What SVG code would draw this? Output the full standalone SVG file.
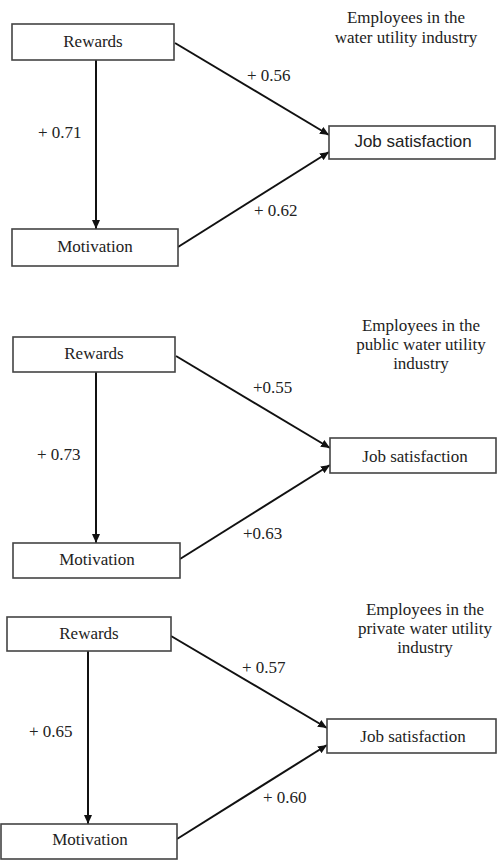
<svg xmlns="http://www.w3.org/2000/svg" width="497" height="860" viewBox="0 0 497 860">
<defs>
<marker id="ah" markerUnits="userSpaceOnUse" markerWidth="10" markerHeight="8" refX="9" refY="4" orient="auto">
<path d="M0,0 L9,4 L0,8 Z" fill="#111"/>
</marker>
<style>
.box{fill:#fff;stroke:#444;stroke-width:1.6}
.t{font-family:"Liberation Serif","Times New Roman",serif;font-size:17px;fill:#222}
.s{font-family:"Liberation Sans",Arial,sans-serif;font-size:17px;fill:#222}
.m{text-anchor:middle}
.e{stroke:#111;stroke-width:2;fill:none;marker-end:url(#ah)}
</style>
</defs>
<rect width="497" height="860" fill="#fff"/>

<!-- Panel 1 -->
<g id="title1">
<text class="t m" x="406" y="23">Employees in the</text>
<text class="t m" x="406" y="43">water utility industry</text>
</g>
<g id="connectors1">
<line class="e" x1="96" y1="60" x2="96" y2="229"/>
<line class="e" x1="175" y1="43" x2="329" y2="135"/>
<line class="e" x1="178" y1="247" x2="329" y2="152"/>
<text class="t" x="247" y="81">+ 0.56</text>
<text class="t" x="38" y="138">+ 0.71</text>
<text class="t" x="254" y="216">+ 0.62</text>
</g>
<g id="rewards1">
<rect class="box" x="12" y="24" width="162" height="36"/>
<text class="t m" x="93" y="47">Rewards</text>
</g>
<g id="motivation1">
<rect class="box" x="12" y="229" width="166" height="37"/>
<text class="t m" x="95" y="252">Motivation</text>
</g>
<g id="job1">
<rect class="box" x="329" y="126" width="166" height="33"/>
<text class="s m" x="413" y="147">Job satisfaction</text>
</g>

<!-- Panel 2 -->
<g id="title2">
<text class="t m" x="421" y="331">Employees in the</text>
<text class="t m" x="421" y="350">public water utility</text>
<text class="t m" x="421" y="369">industry</text>
</g>
<g id="connectors2">
<line class="e" x1="96" y1="372" x2="96" y2="543"/>
<line class="e" x1="176" y1="356" x2="330" y2="448"/>
<line class="e" x1="180" y1="559" x2="330" y2="465"/>
<text class="t" x="253" y="393">+0.55</text>
<text class="t" x="37" y="460">+ 0.73</text>
<text class="t" x="243" y="539">+0.63</text>
</g>
<g id="rewards2">
<rect class="box" x="13" y="337" width="162" height="35"/>
<text class="t m" x="94" y="359">Rewards</text>
</g>
<g id="motivation2">
<rect class="box" x="13" y="543" width="167" height="35"/>
<text class="t m" x="97" y="565">Motivation</text>
</g>
<g id="job2">
<rect class="box" x="330" y="438" width="166" height="35"/>
<text class="t m" x="415" y="462">Job satisfaction</text>
</g>

<!-- Panel 3 -->
<g id="title3">
<text class="t m" x="425" y="615">Employees in the</text>
<text class="t m" x="425" y="634">private water utility</text>
<text class="t m" x="425" y="653">industry</text>
</g>
<g id="connectors3">
<line class="e" x1="88" y1="651" x2="88" y2="824"/>
<line class="e" x1="171" y1="636" x2="327" y2="728"/>
<line class="e" x1="177" y1="839" x2="327" y2="745"/>
<text class="t" x="242" y="673">+ 0.57</text>
<text class="t" x="29" y="737">+ 0.65</text>
<text class="t" x="263" y="803">+ 0.60</text>
</g>
<g id="rewards3">
<rect class="box" x="7" y="617" width="164" height="34"/>
<text class="t m" x="89" y="639">Rewards</text>
</g>
<g id="motivation3">
<rect class="box" x="1" y="824" width="176" height="35"/>
<text class="t m" x="90" y="845">Motivation</text>
</g>
<g id="job3">
<rect class="box" x="327" y="719" width="169" height="34"/>
<text class="t m" x="413" y="742">Job satisfaction</text>
</g>
</svg>
